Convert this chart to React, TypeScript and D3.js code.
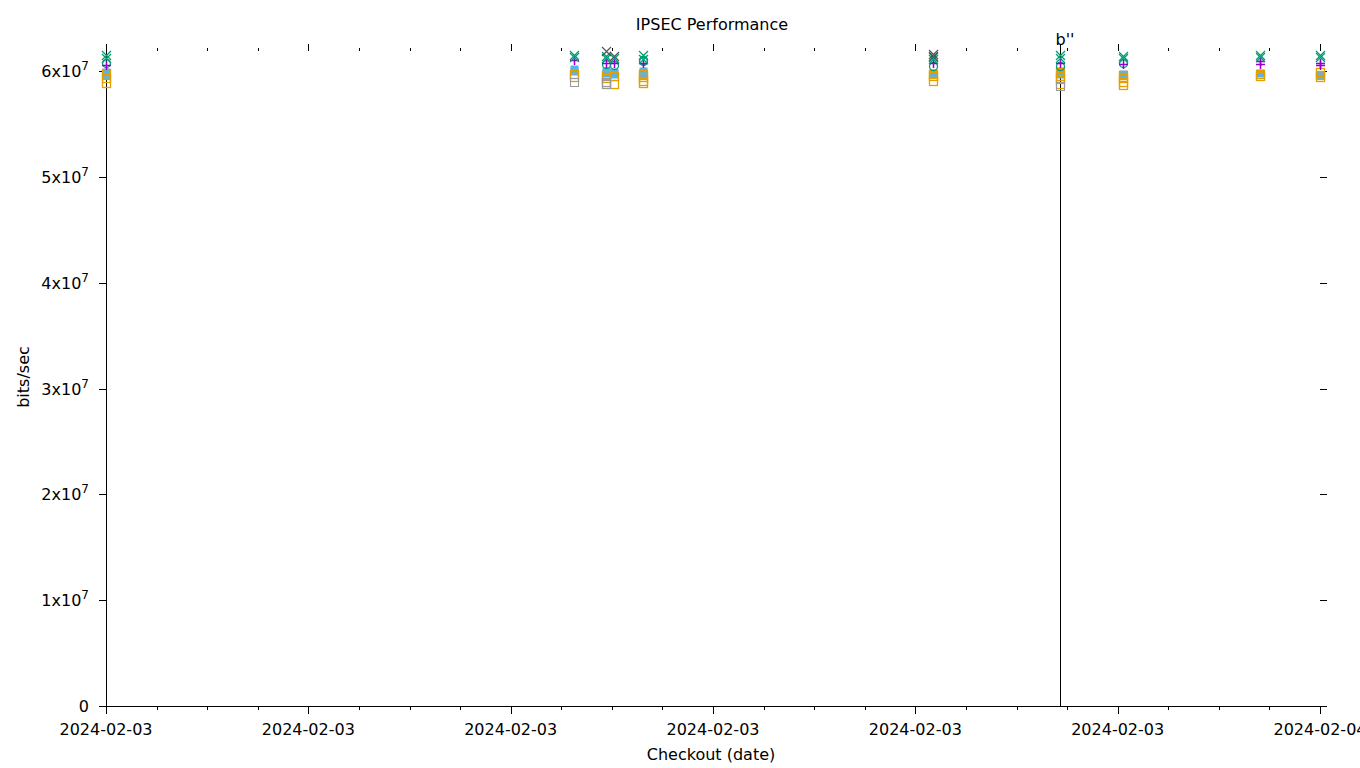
import React from "react";
import * as d3 from "d3";

const times = [
  "2024-02-03T00:00", "2024-02-03T09:15", "2024-02-03T09:53", "2024-02-03T10:03",
  "2024-02-03T10:37", "2024-02-03T16:21", "2024-02-03T18:52", "2024-02-03T20:06",
  "2024-02-03T22:49", "2024-02-04T00:00",
];
const greenX = [[6.15e7, 6.12e7], [6.15e7, 6.13e7], [6.14e7, 6.12e7], [6.12e7], [6.15e7, 6.11e7], [6.13e7, 6.11e7], [6.15e7, 6.12e7], [6.14e7, 6.12e7], [6.15e7, 6.13e7], [6.15e7, 6.13e7]];
const grayX = [[], [], [6.19e7], [6.14e7], [], [6.16e7, 6.14e7], [], [], [], []];
const tealCircle = [[6.08e7], [], [6.07e7], [6.06e7], [6.1e7, 6.09e7], [6.05e7], [6.05e7], [6.08e7], [], []];
const purplePlus = [[6.06e7], [6.1e7], [6.08e7], [6.08e7], [6.08e7], [6.08e7], [6.08e7], [6.07e7], [6.09e7, 6.07e7], [6.08e7, 6.06e7]];
const blueSquare = [[5.99e7, 5.96e7], [6.02e7, 6.0e7], [6.0e7, 5.98e7], [5.99e7, 5.97e7], [6.0e7, 5.98e7], [5.98e7], [6.0e7, 5.97e7], [5.97e7], [5.98e7], [5.96e7]];
const orangeSquare = [[5.98e7, 5.93e7, 5.89e7], [5.97e7, 5.94e7], [5.96e7, 5.93e7, 5.9e7, 5.88e7], [5.95e7, 5.88e7], [5.97e7, 5.94e7, 5.91e7, 5.89e7], [5.97e7, 5.95e7, 5.91e7], [5.99e7, 5.95e7, 5.92e7, 5.88e7], [5.96e7, 5.93e7, 5.9e7, 5.87e7], [5.97e7, 5.95e7], [5.99e7, 5.96e7, 5.94e7]];
const graySquare = [[], [5.9e7], [5.9e7, 5.88e7], [], [], [], [5.86e7], [], [], []];

const markers = [{ time: "2024-02-03T00:00", label: "" }, { time: "2024-02-03T18:52", label: "b''" }];
const yTicks = [0, 1, 2, 3, 4, 5, 6];

const parse = d3.timeParse("%Y-%m-%dT%H:%M");
const FONT = "DejaVu Sans, sans-serif";

export default function App() {
  const L = 106, R = 1320, T = 51, B = 706;
  const x = d3.scaleTime().domain([parse(times[0])!, parse(times[times.length - 1])!]).range([L, R]);
  const y = d3.scaleLinear().domain([0, 6.189e7]).range([B, T]);
  const majors = x.ticks(d3.timeHour.every(4)!);
  const minors = x.ticks(d3.timeHour.every(1)!).filter((d) => !majors.some((m) => +m === +d));
  const fmt = d3.timeFormat("%Y-%m-%d");
  const r = (v: number) => Math.round(v) + 0.5;

  const pts = (arr: number[][]) =>
    arr.flatMap((vals, i) => vals.map((v) => ({ px: Math.round(x(parse(times[i])!)) + 0.5, py: Math.round(y(v)) + 0.5 })));

  const s = 4.5;
  return (
    <svg width={1360} height={768} style={{ position: "absolute", left: 0, top: 0, background: "#fff" }} fontFamily={FONT}>
      <style>{"body{margin:0}"}</style>
      <rect width={1360} height={768} fill="#fff" />
      <line x1={L} x2={R + 1} y1={r(B)} y2={r(B)} stroke="#000" />
      {markers.map((m, i) => {
        const px = r(x(parse(m.time)!));
        return (
          <g key={i}>
            <line x1={px} x2={px} y1={44} y2={B} stroke="#000" />
            {m.label && (
              <text x={px - 5} y={45} fontSize={16}>{m.label}</text>
            )}
          </g>
        );
      })}
      {yTicks.map((t) => (
        <g key={t}>
          <line x1={L - 7} x2={L} y1={r(y(t * 1e7))} y2={r(y(t * 1e7))} stroke="#000" />
          <line x1={R} x2={R + 7} y1={r(y(t * 1e7))} y2={r(y(t * 1e7))} stroke="#000" />
          <text x={89} y={y(t * 1e7) + 6} fontSize={16} textAnchor="end">
            {t === 0 ? "0" : (
              <>
                {t}x10<tspan fontSize={12} dy={-7}>7</tspan>
              </>
            )}
          </text>
        </g>
      ))}
      {majors.map((d, i) => (
        <g key={i}>
          <line x1={r(x(d))} x2={r(x(d))} y1={B} y2={B + 8} stroke="#000" />
          <line x1={r(x(d))} x2={r(x(d))} y1={T} y2={T - 7} stroke="#000" />
          <text x={x(d)} y={735} fontSize={16} textAnchor="middle">{fmt(d)}</text>
        </g>
      ))}
      {minors.map((d, i) => (
        <g key={i}>
          <line x1={r(x(d))} x2={r(x(d))} y1={B} y2={B + 4} stroke="#000" />
          <line x1={r(x(d))} x2={r(x(d))} y1={T} y2={T - 3} stroke="#000" />
        </g>
      ))}
      <text x={712} y={30} fontSize={16} textAnchor="middle">IPSEC Performance</text>
      <text x={711} y={760} fontSize={16} textAnchor="middle">Checkout (date)</text>
      <text transform="translate(29,377) rotate(-90)" fontSize={16} textAnchor="middle">bits/sec</text>

      {pts(blueSquare).map((p, i) => (
        <rect key={"b" + i} x={p.px - 4} y={p.py - 4} width={8} height={8} fill="#56b4e9" />
      ))}
      {pts(orangeSquare).map((p, i) => (
        <rect key={"o" + i} x={p.px - 4} y={p.py - 4} width={8} height={8} fill="none" stroke="#e69f00" strokeWidth={1.3} />
      ))}
      {pts(graySquare).map((p, i) => (
        <rect key={"g" + i} x={p.px - 4} y={p.py - 4} width={8} height={8} fill="none" stroke="#999" />
      ))}
      {pts(tealCircle).map((p, i) => (
        <circle key={"c" + i} cx={p.px} cy={p.py} r={4} fill="none" stroke="#009e73" strokeWidth={1.3} />
      ))}
      {pts(purplePlus).map((p, i) => (
        <path key={"p" + i} d={`M${p.px - s},${p.py}H${p.px + s}M${p.px},${p.py - s}V${p.py + s}`} stroke="#9400d3" strokeWidth={1.5} />
      ))}
      {pts(greenX).map((p, i) => (
        <path key={"x" + i} d={`M${p.px - s},${p.py - s}L${p.px + s},${p.py + s}M${p.px - s},${p.py + s}L${p.px + s},${p.py - s}`} stroke="#009e73" strokeWidth={1.3} />
      ))}
      {pts(grayX).map((p, i) => (
        <path key={"k" + i} d={`M${p.px - s},${p.py - s}L${p.px + s},${p.py + s}M${p.px - s},${p.py + s}L${p.px + s},${p.py - s}`} stroke="#555" strokeWidth={1.2} />
      ))}
    </svg>
  );
}
